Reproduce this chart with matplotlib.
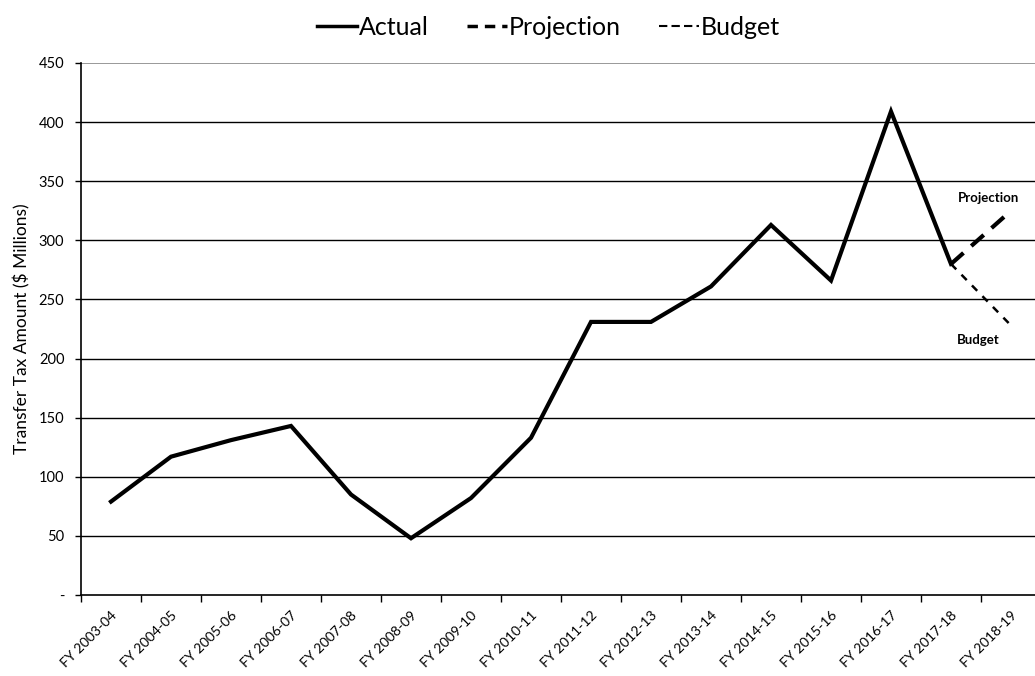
import matplotlib
matplotlib.use("Agg")
import matplotlib.pyplot as plt
import numpy as np
from matplotlib.lines import Line2D

categories = ["FY 2003-04", "FY 2004-05", "FY 2005-06", "FY 2006-07", "FY 2007-08",
              "FY 2008-09", "FY 2009-10", "FY 2010-11", "FY 2011-12", "FY 2012-13",
              "FY 2013-14", "FY 2014-15", "FY 2015-16", "FY 2016-17", "FY 2017-18",
              "FY 2018-19"]
actual = [79, 117, 131, 143, 85, 48, 82, 133, 231, 231, 261, 313, 266, 409, 280]
projection_idx = [14, 15]
projection = [280, 325]
budget_idx = [14, 15]
budget = [280, 228]
yticks = [0, 50, 100, 150, 200, 250, 300, 350, 400, 450]
ytick_labels = ["-", "50", "100", "150", "200", "250", "300", "350", "400", "450"]

plt.rcParams['font.family'] = ['Lato', 'DejaVu Sans']

fig = plt.figure(figsize=(10.35, 6.76), dpi=100)
ax = fig.add_axes([81/1035, (676-595)/676, 960/1035, (595-63)/676])

x = np.arange(len(categories))
ax.plot(x[:len(actual)], actual, color='black', lw=3.0, solid_joinstyle='miter', zorder=3)
ax.plot(projection_idx, projection, color='black', lw=3.0, dashes=(4, 2.5), zorder=3)
ax.plot(budget_idx, budget, color='black', lw=1.8, dashes=(3, 3), zorder=3)

ax.set_xlim(-0.5, len(categories) - 0.5)
ax.set_ylim(0, 450)
ax.set_yticks(yticks)
ax.set_yticklabels(ytick_labels, fontsize=10.5)
ax.set_xticks(x)
ax.set_xticklabels(categories, rotation=45, ha='right', rotation_mode='anchor', fontsize=10)
ax.tick_params(axis='x', length=0, pad=10)
ax.set_xticks(np.arange(-0.5, len(categories), 1), minor=True)
ax.tick_params(axis='x', which='minor', length=5, direction='out', width=1)
ax.tick_params(axis='y', length=4, direction='out', width=1, pad=8)

for v in yticks[1:-1]:
    ax.axhline(v, color='black', lw=1.0, zorder=1)
ax.axhline(450, color='#888888', lw=1.2, zorder=1)

for s in ['top', 'right']:
    ax.spines[s].set_visible(False)
ax.spines['left'].set_linewidth(1.2)
ax.spines['bottom'].set_linewidth(1.2)

ax.set_ylabel("Transfer Tax Amount ($ Millions)", fontsize=12.5, labelpad=6)

ax.text(14.62, 336, "Projection", fontsize=9.5, fontweight='bold', ha='center', va='center')
ax.text(14.45, 216, "Budget", fontsize=9.5, fontweight='bold', ha='center', va='center')

handles = [Line2D([], [], color='black', lw=2.5),
           Line2D([], [], color='black', lw=2.5, dashes=(3, 2)),
           Line2D([], [], color='black', lw=1.5, dashes=(4, 2))]
fig.legend(handles, ["Actual", "Projection", "Budget"], loc='upper center',
           bbox_to_anchor=(0.53, 1.01), ncol=3, frameon=False, fontsize=18,
           handlelength=1.6, handletextpad=0.1, columnspacing=1.5)

fig.savefig("out.png", dpi=100)
